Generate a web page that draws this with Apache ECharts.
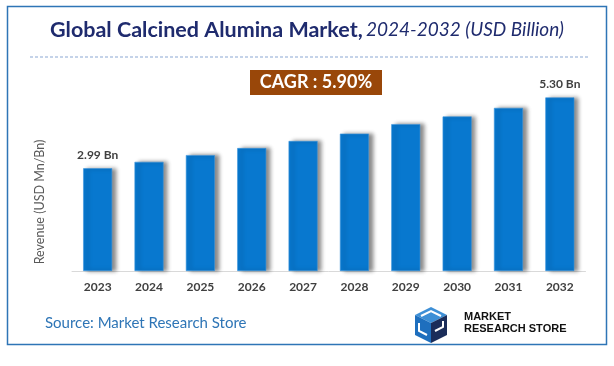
<!DOCTYPE html>
<html>
<head>
<meta charset="utf-8">
<script src="https://cdn.jsdelivr.net/npm/echarts@6/dist/echarts.min.js"></script>
<style>html,body{margin:0;padding:0;background:#fff;}#c{width:614px;height:366px;}</style>
</head>
<body>
<div id="c"></div>
<script>
var years = ['2023','2024','2025','2026','2027','2028','2029','2030','2031','2032'];
var revenue = [2.99, 3.20, 3.42, 3.65, 3.88, 4.12, 4.43, 4.68, 4.96, 5.30];
var labelledIdx = [0, 9];
var cagrText = 'CAGR : 5.90%';
var titleMain = 'Global Calcined Alumina Market,';
var titleSub = '2024-2032 (USD Billion)';
var yAxisTitle = 'Revenue (USD Mn/Bn)';
var sourceText = 'Source: Market Research Store';

var FONT = 'Lato, "Open Sans", sans-serif';
var chart = echarts.init(document.getElementById('c'), null, {renderer:'canvas'});
chart.setOption({
  backgroundColor: '#ffffff',
  animation: false,
  grid: {left: 72, right: 28.5, top: 76, bottom: 95},
  xAxis: {
    type: 'category', data: years,
    axisLine: {show: true, onZero: false, lineStyle: {color: '#d9d9d9', width: 1}},
    axisTick: {show: false},
    axisLabel: {color: '#404040', fontWeight: 'bold', fontSize: 12, fontFamily: FONT, margin: 10}
  },
  yAxis: {
    type: 'value', min: -0.36, max: 6, startValue: -0.36,
    axisLine: {show: false}, axisTick: {show: false}, axisLabel: {show: false},
    splitLine: {show: false}
  },
  series: [{
    type: 'bar', data: revenue, barWidth: 29,
    itemStyle: {color: '#0878cf', borderColor: '#3d95dd', borderWidth: 0.6,
      shadowColor: 'rgba(0,0,0,0.45)', shadowBlur: 4, shadowOffsetX: 4, shadowOffsetY: 0},
    label: {
      show: true, position: 'top', distance: 7,
      color: '#404040', fontWeight: 'bold', fontSize: 12, fontFamily: FONT,
      formatter: function (p) { return labelledIdx.indexOf(p.dataIndex) >= 0 ? p.value.toFixed(2) + ' Bn' : ''; }
    }
  }],
  graphic: [
    {type: 'rect', shape: {x: 7.5, y: 6.5, width: 599, height: 338}, style: {fill: 'none', stroke: '#2e75b6', lineWidth: 1.5}, z: 10},
    {type: 'text', left: 'center', top: 19, style: {
      text: '{a|' + titleMain + '} {b|' + titleSub + '}',
      rich: {
        a: {fontSize: 21.5, fontWeight: 'bold', fill: '#1f2b6e', fontFamily: FONT},
        b: {fontSize: 19, fontStyle: 'italic', fill: '#1f2b6e', fontFamily: FONT}
      }
    }},
    {type: 'line', shape: {x1: 30, y1: 57, x2: 590, y2: 57}, style: {stroke: '#8aa7d3', lineWidth: 1, lineDash: [3, 2]}},
    {type: 'rect', shape: {x: 250, y: 70, width: 132, height: 25}, style: {fill: '#994709'}},
    {type: 'text', x: 316, y: 82.5, style: {text: cagrText, fill: '#ffffff', fontSize: 18, fontWeight: 'bold', fontFamily: FONT, textAlign: 'center', textVerticalAlign: 'middle'}},
    {type: 'text', x: 40, y: 202, rotation: Math.PI / 2, style: {text: yAxisTitle, fill: '#595959', fontSize: 12.5, fontFamily: FONT, textAlign: 'center', textVerticalAlign: 'middle'}},
    {type: 'text', x: 45, y: 323, style: {text: sourceText, fill: '#2e75b6', fontSize: 15, fontFamily: FONT, textVerticalAlign: 'middle'}},
    // logo
    {type: 'group', x: 413, y: 307, children: [
      {type: 'polygon', shape: {points: [[2,8],[18,0],[34,8],[18,16]]}, style: {fill: '#3d8fd6'}},
      {type: 'polygon', shape: {points: [[2,8],[18,16],[18,36],[2,28]]}, style: {fill: '#1e6fbe'}},
      {type: 'polygon', shape: {points: [[18,16],[34,8],[34,28],[18,36]]}, style: {fill: '#1b2d5a'}},
      {type: 'polyline', shape: {points: [[8,9],[18,4],[28,9]]}, style: {stroke: '#ffffff', lineWidth: 2, fill: 'none'}},
      {type: 'polyline', shape: {points: [[6,16],[6,24],[14,28]]}, style: {stroke: '#ffffff', lineWidth: 2, fill: 'none'}},
      {type: 'polyline', shape: {points: [[22,24],[30,20],[30,14]]}, style: {stroke: '#ffffff', lineWidth: 2, fill: 'none'}}
    ]},
    {type: 'text', x: 464, y: 317, style: {text: 'MARKET', fill: '#111111', fontSize: 11, fontWeight: 'bold', fontFamily: '"Liberation Sans", Arial, sans-serif', textVerticalAlign: 'middle'}},
    {type: 'text', x: 464, y: 329, style: {text: 'RESEARCH STORE', fill: '#111111', fontSize: 11, fontWeight: 'bold', fontFamily: '"Liberation Sans", Arial, sans-serif', textVerticalAlign: 'middle'}}
  ]
});
</script>
</body>
</html>
